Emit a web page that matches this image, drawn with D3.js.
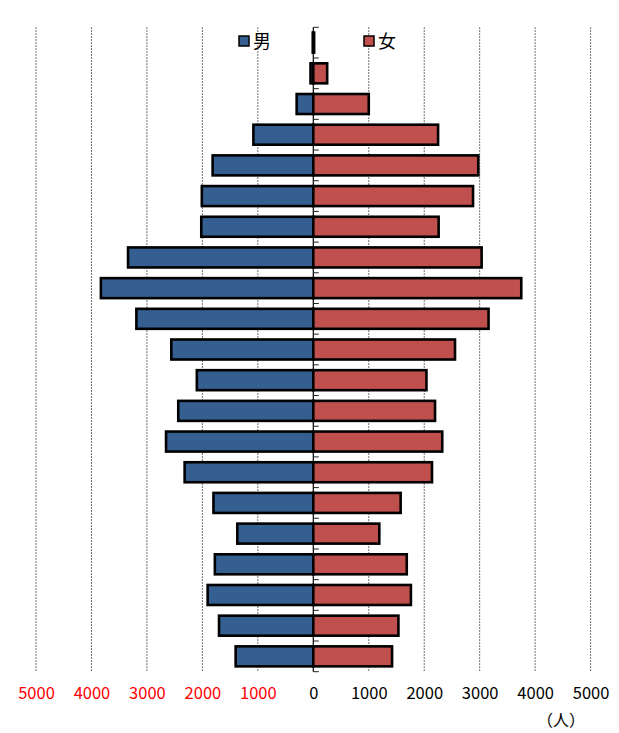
<!DOCTYPE html>
<html>
<head>
<meta charset="utf-8">
<script src="https://cdn.jsdelivr.net/npm/d3@7"></script>
<style>
  html, body { margin: 0; padding: 0; background: #fff; }
  svg { display: block; font-family: "Noto Sans CJK JP", "DejaVu Sans", sans-serif; }
</style>
</head>
<body>
<svg id="chart" width="619" height="733"></svg>
<script>
// age groups, top row first (oldest) down to 0-4
const ageGroups = ['100+', '95-99', '90-94', '85-89', '80-84', '75-79', '70-74',
  '65-69', '60-64', '55-59', '50-54', '45-49', '40-44', '35-39', '30-34',
  '25-29', '20-24', '15-19', '10-14', '5-9', '0-4']

const maleValues = [10, 50, 300, 1080, 1815, 2010, 2020, 3340, 3830, 3190, 2560,
  2100, 2435, 2655, 2320, 1800, 1370, 1775, 1905, 1700, 1400]

const femaleValues = [15, 250, 1000, 2250, 2975, 2880, 2260, 3035, 3750, 3160, 2555,
  2040, 2195, 2325, 2140, 1575, 1190, 1685, 1760, 1535, 1420]

const tickValues = [-5000, -4000, -3000, -2000, -1000, 0, 1000, 2000, 3000, 4000, 5000]

const legendItems = [
  { label: '男', color: '#365f91' },
  { label: '女', color: '#c0504d' },
]

const svg = d3.select('#chart')

const x = d3.scaleLinear()
    .domain([-5000, 5000])
    .range([36, 590.6])

const y = d3.scaleBand()
    .domain(ageGroups)
    .range([27.3, 671.7])

const barH = 20
const plotTop = y.range()[0]
const plotBottom = y.range()[1]

// dotted grid
svg.append('g')
    .selectAll('line')
    .data(tickValues.filter(d => d !== 0))
    .join('line')
    .attr('x1', d => x(d))
    .attr('x2', d => x(d))
    .attr('y1', plotTop)
    .attr('y2', plotBottom)
    .attr('stroke', '#444')
    .attr('stroke-width', 1)
    .attr('stroke-dasharray', '1.5,1.5')

const rows = ageGroups.map((age, i) => ({ age, male: maleValues[i], female: femaleValues[i] }))

const bars = svg.append('g')

bars.selectAll('rect.male')
    .data(rows)
    .join('rect')
    .attr('class', 'male')
    .attr('x', d => x(-d.male))
    .attr('width', d => x(0) - x(-d.male))
    .attr('y', d => y(d.age) + (y.bandwidth() - barH) / 2)
    .attr('height', barH)
    .attr('fill', legendItems[0].color)
    .attr('stroke', '#000')
    .attr('stroke-width', 2.6)

bars.selectAll('rect.female')
    .data(rows)
    .join('rect')
    .attr('class', 'female')
    .attr('x', x(0))
    .attr('width', d => x(d.female) - x(0))
    .attr('y', d => y(d.age) + (y.bandwidth() - barH) / 2)
    .attr('height', barH)
    .attr('fill', legendItems[1].color)
    .attr('stroke', '#000')
    .attr('stroke-width', 2.6)

// centre axis with small ticks at band edges
const centre = svg.append('g')

centre.append('line')
    .attr('x1', x(0))
    .attr('x2', x(0))
    .attr('y1', plotTop)
    .attr('y2', plotBottom)
    .attr('stroke', '#000')
    .attr('stroke-width', 1.2)

centre.selectAll('line.tick')
    .data(ageGroups.map(a => y(a)).concat([plotBottom]))
    .join('line')
    .attr('class', 'tick')
    .attr('x1', x(0))
    .attr('x2', x(0) + 5.5)
    .attr('y1', d => d)
    .attr('y2', d => d)
    .attr('stroke', '#222')
    .attr('stroke-width', 1)

// bottom tick labels
const axis = d3.axisBottom(x)
    .tickValues(tickValues)
    .tickSize(0)
    .tickPadding(7)
    .tickFormat(d => Math.abs(d))

const axisG = svg.append('g')
    .attr('transform', 'translate(0,680)')
    .call(axis)

axisG.select('.domain').remove()
axisG.selectAll('text')
    .attr('font-size', 16.5)
    .attr('font-family', '"Noto Sans CJK JP", sans-serif')
    .attr('fill', d => d < 0 ? '#ff0000' : '#000')

svg.append('text')
    .attr('x', 561)
    .attr('y', 726)
    .attr('text-anchor', 'middle')
    .attr('font-size', 16)
    .text('（人）')

// legend
const legend = svg.append('g')
    .selectAll('g')
    .data(legendItems)
    .join('g')
    .attr('transform', (d, i) => `translate(${i === 0 ? 239 : 364},36)`)

legend.append('rect')
    .attr('width', 10)
    .attr('height', 10)
    .attr('fill', d => d.color)
    .attr('stroke', '#000')
    .attr('stroke-width', 1.5)

legend.append('text')
    .attr('x', 14)
    .attr('y', 12)
    .attr('font-size', 18)
    .text(d => d.label)
</script>
</body>
</html>
